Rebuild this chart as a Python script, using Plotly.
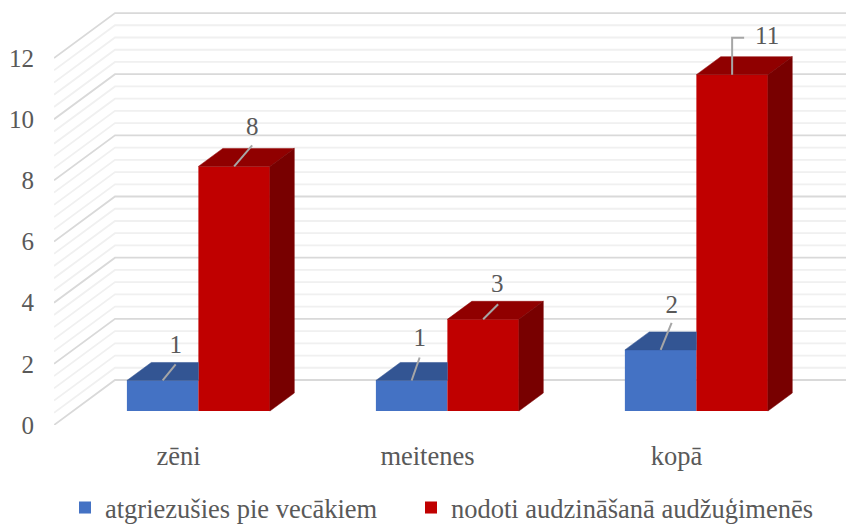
import plotly.graph_objects as go

categories = ["zēni", "meitenes", "kopā"]
series_names = ["atgriezušies pie vecākiem", "nodoti audzināšanā audžuģimenēs"]
returned = [1, 1, 2]
foster = [8, 3, 11]
y_ticks = [0, 2, 4, 6, 8, 10, 12]

# --- projection / style constants (oblique 3-D look) ---
PX_X, PX_Y = 249.0, 30.58          # pixels per category, per unit
WALL_DX, WALL_DY = 61 / PX_X, 45 / PX_Y
FRONT, BACK = 0.31, 0.71           # bar depth range as a share of the floor depth
W = 71.5 / PX_X
XMAX = 2.713
TXT = "#595959"
FONT = "Liberation Serif"
LEAD = "#A6A6A6"


def proj(x, v, depth):
    return x + depth * WALL_DX, v + depth * WALL_DY


def path(points):
    return "M" + " L".join(f"{a:.4f},{b:.4f}" for a, b in points)


fig = go.Figure()

# walls' gridlines
shapes = []
n = 30
for i in range(n + 1):
    v = 12 * i / n
    major = i % 5 == 0
    p0 = proj(-0.5, v, 0)
    p1 = proj(-0.5, v, 1)
    shapes.append(dict(type="path", xref="x", yref="y", layer="below",
                       path=path([p0, p1, (XMAX + 0.1, p1[1])]),
                       line=dict(color="#D9D9D9" if major else "#F0F0F0", width=1.8)))


def face(xs, ys, color):
    fig.add_trace(go.Scatter(x=xs, y=ys, mode="lines", fill="toself", fillcolor=color,
                             line=dict(color=color, width=0.5), hoverinfo="skip",
                             showlegend=False))


# front faces
shift, base = proj(0, 0, FRONT)
shift += 1 / PX_X
for name, vals, off, col, lg in [(series_names[0], returned, -W / 2, "#4472C4", "legend"),
                                 (series_names[1], foster, W / 2, "#C00000", "legend2")]:
    fig.add_trace(go.Bar(x=[i + shift + off for i in range(3)], y=vals, base=[base] * 3,
                         width=W, name=name, legend=lg,
                         marker=dict(color=col, line=dict(width=0))))

# top and side faces
d = BACK - FRONT
for i in range(3):
    # blue top, cut where the red front face hides it
    v = returned[i]
    l = i + shift - W
    r = i + shift
    face([l, l + d * WALL_DX, r, r, l],
         [base + v, base + v + d * WALL_DY, base + v + d * WALL_DY, base + v, base + v], "#335593")
    # red top and side
    v = foster[i]
    l = i + shift
    r = i + shift + W
    face([l, l + d * WALL_DX, r + d * WALL_DX, r, l],
         [base + v, base + v + d * WALL_DY, base + v + d * WALL_DY, base + v, base + v], "#900000")
    face([r, r + d * WALL_DX, r + d * WALL_DX, r, r],
         [base, base + d * WALL_DY, base + v + d * WALL_DY, base + v, base], "#780000")

# data labels with leader lines; offsets from the bar's top-centre, in pixels
# (end dx, end dy, label dx, label dy)
ret_off = [(13, 16, 13, 34), (8, 23, 8, 41), (11, 27, 11, 43)]
fos_off = [(18, 21, 18, 38), (15, 15, 14, 34), (0, 37, 35, 37)]
for vals, center, offs in [(returned, -W / 2, ret_off), (foster, W / 2, fos_off)]:
    for i, v in enumerate(vals):
        x0 = i + shift + center
        y0 = base + v
        ex, ey, lx, ly = offs[i]
        xs = [x0, x0 + ex / PX_X]
        ys = [y0, y0 + ey / PX_Y]
        if lx > ex + 20:  # elbow leader
            xs.append(x0 + (ex + 12) / PX_X)
            ys.append(y0 + ey / PX_Y)
        fig.add_trace(go.Scatter(x=xs, y=ys, mode="lines", line=dict(color=LEAD, width=2),
                                 hoverinfo="skip", showlegend=False))
        fig.add_trace(go.Scatter(x=[x0 + lx / PX_X], y=[y0 + ly / PX_Y], mode="text", text=[str(v)],
                                 textposition="middle center",
                                 textfont=dict(family=FONT, size=25, color=TXT),
                                 hoverinfo="skip", showlegend=False))

legend_common = dict(orientation="h", xref="container", yref="container", y=0.037,
                     xanchor="left", yanchor="middle",
                     font=dict(family=FONT, size=26.5, color=TXT), bgcolor="rgba(0,0,0,0)")

fig.update_layout(
    width=846, height=519, margin=dict(l=46, r=0, t=0, b=102),
    paper_bgcolor="white", plot_bgcolor="white", barmode="overlay", shapes=shapes,
    font=dict(family=FONT, color=TXT),
    xaxis=dict(range=[-0.5, XMAX], tickvals=[0, 1, 2], ticktext=categories, showgrid=False,
               zeroline=False, showline=False, ticks="outside", ticklen=7,
               tickcolor="rgba(0,0,0,0)", tickfont=dict(family=FONT, size=26.5, color=TXT)),
    yaxis=dict(range=[0, 417 / PX_Y], tickvals=y_ticks, showgrid=False, zeroline=False,
               showline=False, ticks="outside", ticklen=14, tickcolor="rgba(0,0,0,0)",
               tickfont=dict(family=FONT, size=25, color=TXT)),
    legend=dict(x=57 / 846, **legend_common),
    legend2=dict(x=403 / 846, **legend_common),
)

fig.write_html("out.html")
